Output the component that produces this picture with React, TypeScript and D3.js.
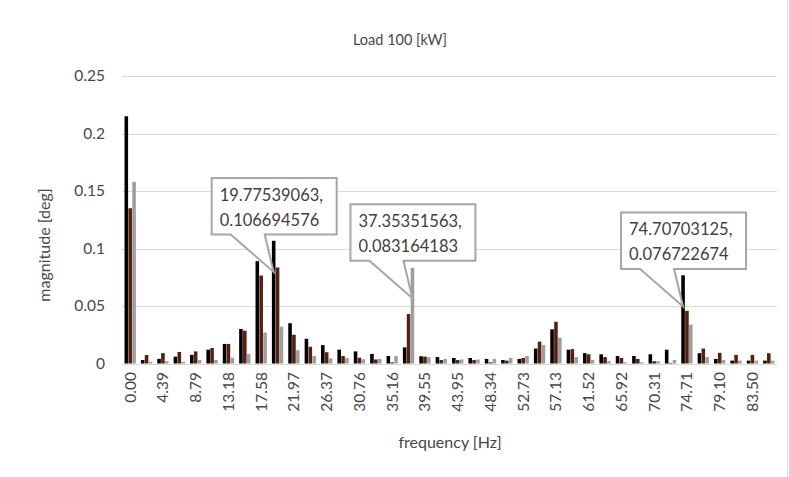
import React, { useEffect, useRef } from "react";
import * as d3 from "d3";

// frequency bins (step 2.197265625 Hz)
const binStep = 2.197265625;
const binCount = 40;
const frequencies = d3.range(binCount).map(i => (i * binStep).toFixed(2));

const seriesBlack = [
  0.215, 0.003, 0.004, 0.006, 0.0075, 0.012, 0.017, 0.030, 0.089, 0.1067,
  0.035, 0.0215, 0.016, 0.012, 0.0105, 0.0083, 0.0065, 0.014, 0.0063, 0.0056,
  0.0048, 0.0048, 0.004, 0.003, 0.004, 0.013, 0.0297, 0.012, 0.009, 0.008,
  0.0065, 0.0065, 0.008, 0.012, 0.0767, 0.009, 0.004, 0.0025, 0.0025, 0.0025,
];
const seriesBrown = [
  0.135, 0.0074, 0.009, 0.010, 0.0105, 0.0135, 0.017, 0.0285, 0.0765, 0.0835,
  0.025, 0.0145, 0.0098, 0.0065, 0.005, 0.0035, 0.001, 0.043, 0.006, 0.003,
  0.003, 0.003, 0.001, 0.0025, 0.0048, 0.019, 0.0363, 0.0125, 0.008, 0.0056,
  0.0048, 0.004, 0.002, 0.0005, 0.0458, 0.013, 0.0093, 0.0075, 0.0075, 0.009,
];
const seriesGray = [
  0.158, 0.0015, 0.002, 0.0015, 0.003, 0.003, 0.005, 0.0083, 0.027, 0.032,
  0.0115, 0.0065, 0.0045, 0.0048, 0.0037, 0.004, 0.0065, 0.0832, 0.0055, 0.004,
  0.0035, 0.0035, 0.004, 0.0048, 0.0065, 0.016, 0.0225, 0.0056, 0.003, 0.002,
  0.001, 0.001, 0.002, 0.003, 0.0337, 0.0056, 0.003, 0.0025, 0.0025, 0.0025,
];
const seriesColors = ["#000000", "#57200c", "#9e9e9e"];
const yTicks = [0, 0.05, 0.1, 0.15, 0.2, 0.25];

// data label callouts: bin, series index, label lines, where the leader touches
const callouts = [
  { bin: 9, series: 0, lines: ["19.77539063,", "0.106694576"], tipValue: 0.0796 },
  { bin: 17, series: 2, lines: ["37.35351563,", "0.083164183"], tipValue: 0.0568 },
  { bin: 34, series: 0, lines: ["74.70703125,", "0.076722674"], tipValue: 0.0496 },
];

const W = 789;
const H = 477;
const margin = { top: 76, right: 12, bottom: 113.5, left: 122 };
const FONT = "Lato, 'Open Sans', sans-serif";
const TEXT = "#474747";

export default function App() {
  const svgRef = useRef<SVGSVGElement>(null);

  useEffect(() => {
    if (!svgRef.current) return;
    const svg = d3.select(svgRef.current);
    svg.selectAll("*").remove();

    svg.append("rect").attr("width", W).attr("height", H).attr("fill", "#fff");
    svg.append("line")
      .attr("x1", W - 1.5).attr("x2", W - 1.5).attr("y1", 0).attr("y2", H)
      .attr("stroke", "#d9d9d9").attr("stroke-width", 1);

    const x0 = d3.scaleBand<string>()
      .domain(frequencies)
      .range([margin.left, W - margin.right])
      .paddingInner(0.27)
      .paddingOuter(0.135);
    const x1 = d3.scaleBand<number>()
      .domain([0, 1, 2])
      .range([0, x0.bandwidth()])
      .padding(0.08);
    const y = d3.scaleLinear().domain([0, 0.25]).range([H - margin.bottom, margin.top]);

    // gridlines
    svg.append("g")
      .selectAll("line")
      .data(yTicks)
      .enter().append("line")
      .attr("x1", margin.left).attr("x2", W - margin.right)
      .attr("y1", d => Math.round(y(d)) + 0.5).attr("y2", d => Math.round(y(d)) + 0.5)
      .attr("stroke", "#d9d9d9").attr("stroke-width", 1);

    // y tick labels
    svg.append("g")
      .selectAll("text")
      .data(yTicks)
      .enter().append("text")
      .attr("x", 105).attr("y", d => y(d))
      .attr("dy", "0.35em")
      .attr("text-anchor", "end")
      .attr("font-family", FONT).attr("font-size", 15.5).attr("fill", TEXT)
      .text(d => (d === 0 ? "0" : String(d)));

    // bars
    const allSeries = [seriesBlack, seriesBrown, seriesGray];
    allSeries.forEach((vals, si) => {
      svg.append("g")
        .selectAll("rect")
        .data(vals)
        .enter().append("rect")
        .attr("x", (_, i) => (x0(frequencies[i]) || 0) + (x1(si) || 0))
        .attr("width", x1.bandwidth())
        .attr("y", d => y(d))
        .attr("height", d => y(0) - y(d))
        .attr("fill", seriesColors[si]);
    });

    // x tick labels (every other bin)
    svg.append("g")
      .selectAll("text")
      .data(frequencies.filter((_, i) => i % 2 === 0))
      .enter().append("text")
      .attr("transform", d => `translate(${(x0(d) || 0) + x0.bandwidth() / 2},372) rotate(-90)`)
      .attr("dy", "0.35em")
      .attr("text-anchor", "end")
      .attr("font-family", FONT).attr("font-size", 15.5).attr("fill", TEXT)
      .text(d => d);

    // titles
    svg.append("text")
      .attr("x", 400).attr("y", 45)
      .attr("text-anchor", "middle")
      .attr("font-family", FONT).attr("font-size", 14.5).attr("fill", TEXT)
      .text("Load 100 [kW]");
    svg.append("text")
      .attr("x", 450).attr("y", 448)
      .attr("text-anchor", "middle")
      .attr("font-family", FONT).attr("font-size", 16).attr("fill", TEXT)
      .text("frequency [Hz]");
    svg.append("text")
      .attr("transform", "translate(50,245) rotate(-90)")
      .attr("text-anchor", "middle")
      .attr("font-family", FONT).attr("font-size", 16).attr("fill", TEXT)
      .text("magnitude [deg]");

    // callouts
    callouts.forEach(c => {
      const tx = (x0(frequencies[c.bin]) || 0) + (x1(c.series) || 0) + x1.bandwidth() / 2;
      const ty = y(c.tipValue);
      const left = tx - 62, right = tx + 63, top = ty - 94, bottom = ty - 37.5;
      const path = d3.path();
      path.moveTo(left, top);
      path.lineTo(right, top);
      path.lineTo(right, bottom);
      path.lineTo(tx - 9, bottom);
      path.lineTo(tx, ty);
      path.lineTo(tx - 43, bottom);
      path.lineTo(left, bottom);
      path.closePath();
      svg.append("path")
        .attr("d", path.toString())
        .attr("fill", "#fff")
        .attr("stroke", "#a6a6a6").attr("stroke-width", 2)
        .attr("stroke-linejoin", "miter");
      c.lines.forEach((line, li) => {
        svg.append("text")
          .attr("x", left + 8).attr("y", top + 17 + li * 25)
          .attr("dy", "0.35em")
          .attr("font-family", FONT).attr("font-size", 16.5).attr("fill", "#404040")
          .text(line);
      });
    });
  }, []);

  return (
    <svg
      ref={svgRef}
      width={W}
      height={H}
      viewBox={`0 0 ${W} ${H}`}
      style={{ position: "absolute", left: 0, top: 0, display: "block" }}
    />
  );
}
